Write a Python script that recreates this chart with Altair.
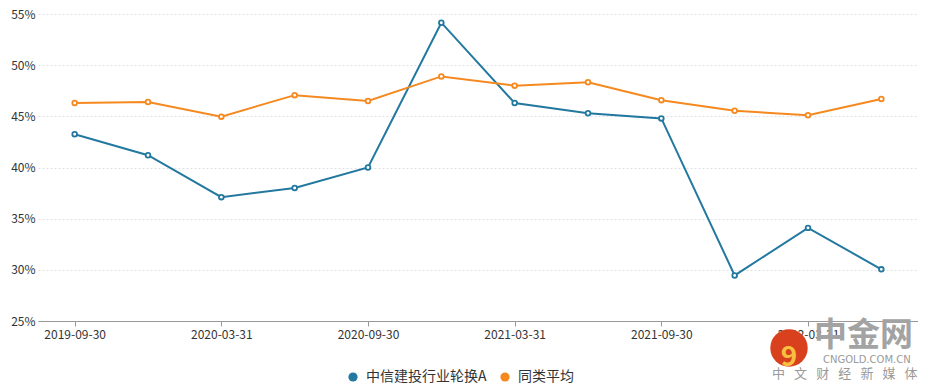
import altair as alt
import pandas as pd

dates = ["2019-09-30", "2019-12-31", "2020-03-31", "2020-06-30", "2020-09-30", "2020-12-31",
         "2021-03-31", "2021-06-30", "2021-09-30", "2021-12-31", "2022-03-31", "2022-06-30"]
fund_name = "中信建投行业轮换A"
avg_name = "同类平均"
fund_vals = [43.25, 41.2, 37.1, 38.0, 40.0, 54.15, 46.3, 45.3, 44.8, 29.45, 34.1, 30.05]
avg_vals = [46.3, 46.4, 44.97, 47.07, 46.5, 48.9, 48.0, 48.33, 46.57, 45.55, 45.1, 46.7]
label_dates = ["2019-09-30", "2020-03-31", "2020-09-30", "2021-03-31", "2021-09-30", "2022-03-31"]
y_ticks = [25, 30, 35, 40, 45, 50, 55]

series = [fund_name, avg_name]
colors = ["#23789f", "#f5891f"]

df = pd.DataFrame({
    "date": dates * 2,
    "value": fund_vals + avg_vals,
    "series": [fund_name] * len(dates) + [avg_name] * len(dates),
})

FONT = "Noto Sans CJK SC"
W, H = 880, 307
PL, PT = 30, 6

x = alt.X("date:O", sort=dates,
          scale=alt.Scale(type="point", padding=0.5),
          axis=alt.Axis(values=label_dates, title=None, labelAngle=0, labelFontSize=12,
                        labelColor="#333", domainColor="#999", tickColor="#999",
                        tickSize=5, labelPadding=3, grid=False))
y = alt.Y("value:Q", scale=alt.Scale(domain=[25, 55], nice=False, zero=False),
          axis=alt.Axis(values=y_ticks, title=None, labelExpr="datum.value + '%'",
                        labelFontSize=12, labelColor="#333", domain=False, ticks=False,
                        labelPadding=3, grid=True, gridColor="#dde0e6", gridDash=[2, 2]))
color = alt.Color("series:N", scale=alt.Scale(domain=series, range=colors),
                  legend=alt.Legend(title=None, orient="none", direction="horizontal",
                                    legendX=308, legendY=356, symbolType="circle",
                                    symbolSize=85, symbolOpacity=1, symbolStrokeWidth=0,
                                    labelFontSize=14, labelColor="#333", columnPadding=11,
                                    labelOffset=6, labelFont=FONT))

base = alt.Chart(df)
# legend-carrying dots, drawn tiny beneath the white-filled points
dots = base.mark_circle(opacity=1).encode(x=x, y=y, color=color, size=alt.value(1))
lines = base.mark_line(strokeWidth=2).encode(x=x, y=y, color=color)
points = base.mark_point(filled=False, fill="white", size=22, strokeWidth=1.8, opacity=1).encode(
    x=x, y=y, color=color)

wm = pd.DataFrame({"k": [0]})
wm_circle = alt.Chart(wm).mark_circle(color="#d9401e", size=1400, opacity=1).encode(
    x=alt.value(751), y=alt.value(334))
wm_inner = alt.Chart(wm).mark_text(text="9", fontSize=28, fontWeight="bold", color="#f8c040").encode(
    x=alt.value(751), y=alt.value(344))
wm_big = alt.Chart(wm).mark_text(text="中金网", fontSize=33, fontWeight="bold", color="#a3a3a3",
                                  align="left", baseline="middle").encode(
    x=alt.value(776), y=alt.value(322))
wm_url = alt.Chart(wm).mark_text(text="CNGOLD.COM.CN", fontSize=10, color="#9a9a9a",
                                  align="left", baseline="middle", font="DejaVu Sans").encode(
    x=alt.value(785), y=alt.value(346))
wm_sub = alt.Chart(wm).mark_text(text="中\u2002\u2009文\u2002\u2009财\u2002\u2009经\u2002\u2009新\u2002\u2009媒\u2002\u2009体",
                                  fontSize=13, color="#9a9a9a",
                                  align="left", baseline="middle").encode(
    x=alt.value(734), y=alt.value(360))

chart = alt.layer(dots, lines, points, wm_circle, wm_inner, wm_big, wm_url, wm_sub).properties(
    width=W, height=H,
    autosize=alt.AutoSizeParams(type="none"),
    padding={"left": PL, "top": PT, "right": 0, "bottom": 66},
).configure(font=FONT).configure_view(stroke=None).configure_axis(labelFont=FONT)

chart.save("out.html", embed_options={"renderer": "svg", "actions": False})
